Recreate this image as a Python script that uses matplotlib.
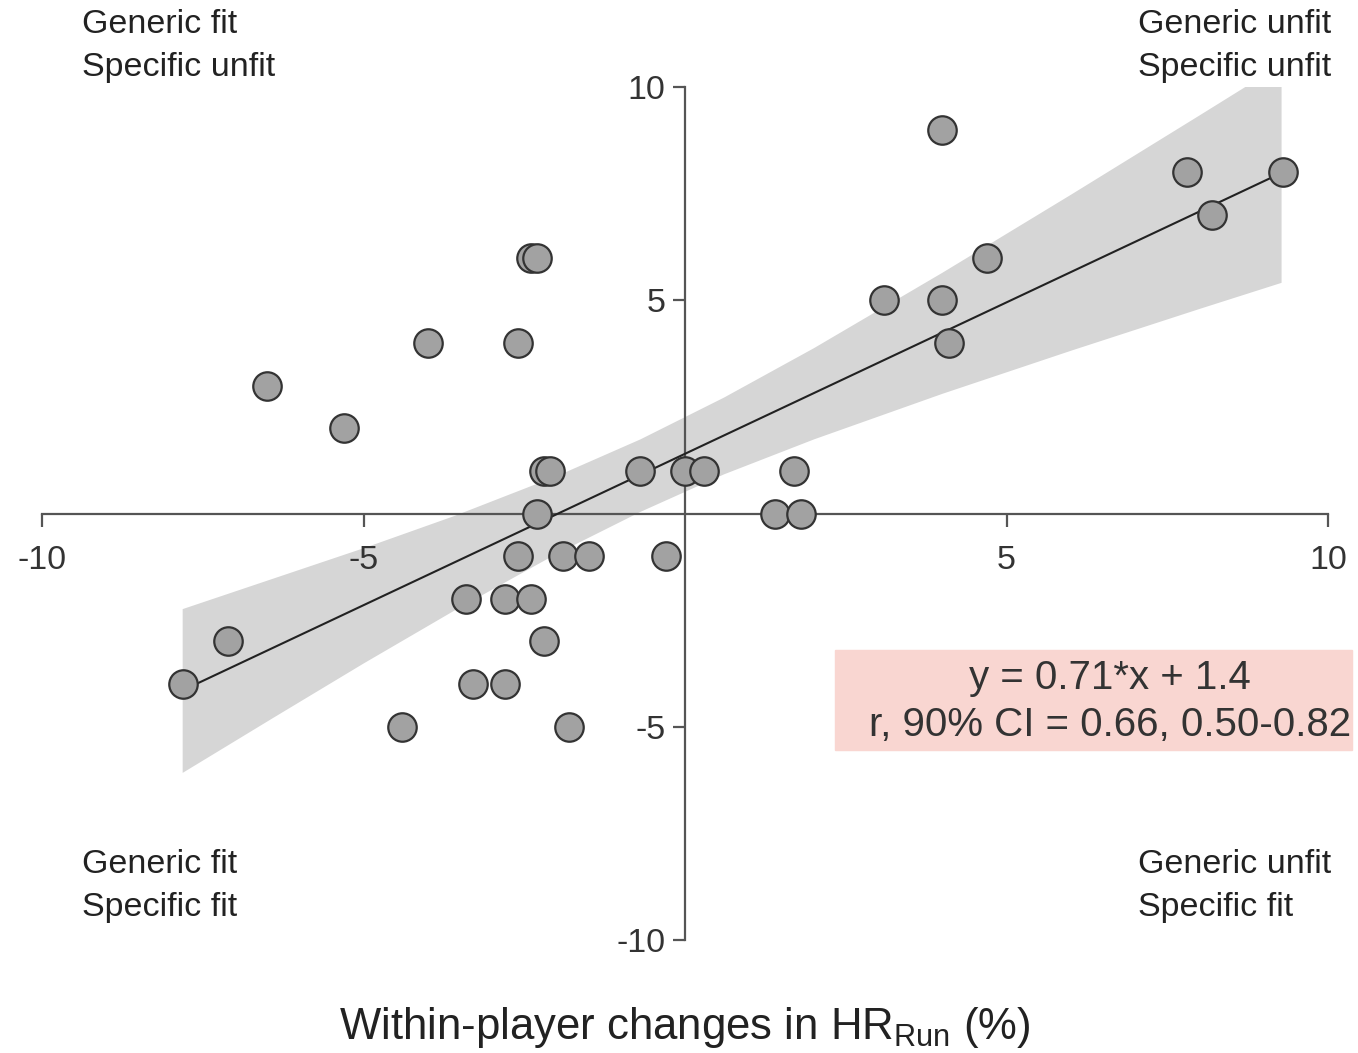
import matplotlib
matplotlib.use('Agg')
import matplotlib.pyplot as plt
import matplotlib.patches as mpatches
import numpy as np

plt.rcParams['font.family'] = ['Liberation Sans', 'DejaVu Sans']

# points
x_vals = [4.0, 7.8, 9.3, 8.2, 4.7, 3.1, 4.0, 4.1, -2.4, -2.3, -4.0, -2.6, -6.5,
          -5.3, -2.2, -2.1, -0.7, 0.0, 0.3, 1.7, -2.3, 1.4, 1.8, -2.6, -1.9,
          -1.5, -0.3, -3.4, -2.8, -2.4, -7.1, -2.2, -7.8, -3.3, -2.8, -4.4, -1.8]
y_vals = [9, 8, 8, 7, 6, 5, 5, 4, 6, 6, 4, 4, 3,
          2, 1, 1, 1, 1, 1, 1, 0, 0, 0, -1, -1,
          -1, -1, -2, -2, -2, -3, -3, -4, -4, -4, -5, -5]

slope = 0.71
intercept = 1.4

# confidence band edges
band_x = [-7.82, -6.4, -5.0, -3.6, -2.0, -0.7, 0.6, 2.0, 4.0, 6.0, 8.0, 9.27]
band_hi = [-2.23, -1.51, -0.80, -0.05, 0.89, 1.75, 2.73, 3.89, 5.66, 7.49, 9.35, 10.54]
band_lo = [-6.07, -4.77, -3.50, -2.27, -0.93, 0.05, 0.93, 1.75, 2.82, 3.83, 4.81, 5.42]

fig = plt.figure(figsize=(13.58, 10.53), dpi=100)
ax = fig.add_axes([42/1358, 1-940/1053, 1286/1358, 853/1053])
ax.set_xlim(-10, 10)
ax.set_ylim(-10, 10)

ax.fill_between(band_x, band_lo, band_hi, color='#d6d6d6', lw=0, zorder=1)
lx = np.array([min(x_vals), max(x_vals)])
ax.plot(lx, slope*lx + intercept, color='#222222', lw=1.5, zorder=3)
ax.scatter(x_vals, y_vals, s=420, facecolor='#a2a2a2', edgecolor='#333333',
           linewidth=1.6, zorder=4)

axis_col = '#555555'
for side in ['top', 'right']:
    ax.spines[side].set_visible(False)
ax.spines['left'].set_position('zero')
ax.spines['bottom'].set_position('zero')
for side in ['left', 'bottom']:
    ax.spines[side].set_color(axis_col)
    ax.spines[side].set_linewidth(1.6)
    ax.spines[side].set_zorder(2)

ax.set_xticks([-10, -5, 5, 10])
ax.set_xticklabels(['-10', '-5', '5', '10'])
ax.set_yticks([-10, -5, 5, 10])
ax.set_yticklabels(['-10', '-5', '5', '10'])
ax.tick_params(axis='x', direction='out', length=9, width=1.6, color=axis_col,
               labelsize=24.5, labelcolor='#333333', pad=14)
ax.tick_params(axis='y', direction='out', length=9, width=1.6, color=axis_col,
               labelsize=24.5, labelcolor='#333333', pad=5)
ax.patch.set_alpha(0)

# quadrant labels
qkw = dict(fontsize=24.5, color='#222222', va='top', ha='left', linespacing=1.48)
fig.text(82/1358, 1-9/1053, 'Generic fit\nSpecific unfit', **qkw)
fig.text(1138/1358, 1-9/1053, 'Generic unfit\nSpecific unfit', **qkw)
fig.text(82/1358, 1-849/1053, 'Generic fit\nSpecific fit', **qkw)
fig.text(1138/1358, 1-849/1053, 'Generic unfit\nSpecific fit', **qkw)

# equation box
fig.patches.append(mpatches.Rectangle((835/1358, 1-750/1053), 517/1358, 100/1053,
                                      transform=fig.transFigure, color='#f9d6d1',
                                      zorder=0))
fig.text(1110/1358, 1-678/1053, 'y = 0.71*x + 1.4', fontsize=29,
         color='#333333', ha='center', va='center')
fig.text(1110/1358, 1-725/1053, 'r, 90% CI = 0.66, 0.50-0.82', fontsize=29,
         color='#333333', ha='center', va='center')

fig.text(685/1358, 1-1027/1053, r'Within-player changes in HR$_{\mathregular{Run}}$ (%)',
         fontsize=31.5, color='#222222', ha='center', va='center')

fig.savefig('out.png', dpi=100)
